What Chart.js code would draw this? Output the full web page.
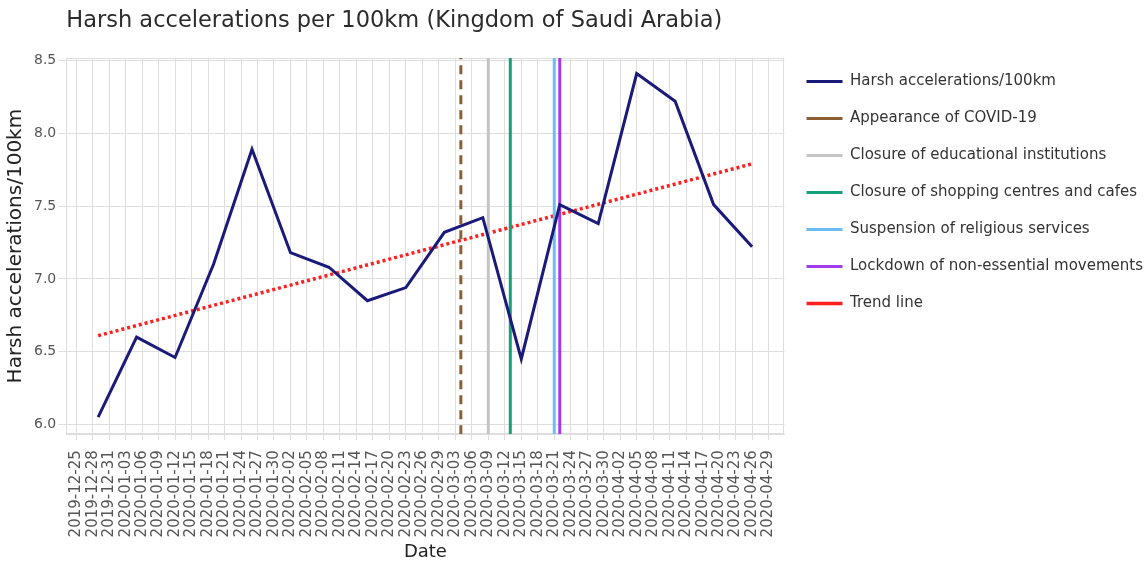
<!DOCTYPE html>
<html>
<head>
<meta charset="utf-8">
<script src="https://cdn.jsdelivr.net/npm/chart.js@4.4.1/dist/chart.umd.min.js"></script>
<style>
    html, body { margin: 0; padding: 0; background: #fff; }
    #wrap { width: 1148px; height: 563px; }
</style>
</head>
<body>
<div id="wrap"><canvas id="accelChart" width="1148" height="563"></canvas></div>
<script>
// weekly values
const weekDates = [
    '2019-12-29', '2020-01-05', '2020-01-12', '2020-01-19', '2020-01-26', '2020-02-02',
    '2020-02-09', '2020-02-16', '2020-02-23', '2020-03-01', '2020-03-08', '2020-03-15',
    '2020-03-22', '2020-03-29', '2020-04-05', '2020-04-12', '2020-04-19', '2020-04-26'
];
const harshValues = [
    6.05, 6.60, 6.46, 7.10, 7.89, 7.18,
    7.08, 6.85, 6.94, 7.32, 7.42, 6.45,
    7.51, 7.38, 8.41, 8.22, 7.51, 7.22
];

// trend line end points
const trendDates = ['2019-12-29', '2020-04-26'];
const trendValues = [6.61, 7.79];

// events (vertical lines)
const eventLabels = [
    'Appearance of COVID-19',
    'Closure of educational institutions',
    'Closure of shopping centres and cafes',
    'Suspension of religious services',
    'Lockdown of non-essential movements'
];
const eventDates = ['2020-03-04', '2020-03-09', '2020-03-13', '2020-03-21', '2020-03-22'];
const eventColors = ['#8c5f33', '#c4c4c4', '#16a07a', '#6cbcf2', '#a03cf0'];
const eventDashes = [[9, 6], [], [], [], []];

const Y_MIN = 5.933;
const Y_MAX = 8.517;
const X_MIN = -1.8;   // days relative to 2019-12-25
const X_MAX = 128.9;

const GRID = '#dedede';
const FONT = 'DejaVu Sans';

const BASE = Date.UTC(2019, 11, 25);

function dayOf(s) {
    const [y, m, d] = s.split('-').map(Number);
    return (Date.UTC(y, m - 1, d) - BASE) / 864e5;
}

function dateOf(v) {
    return new Date(BASE + Math.round(v) * 864e5).toISOString().slice(0, 10);
}

const datasets = [];

datasets.push({
    label: 'Harsh accelerations/100km',
    data: weekDates.map((d, i) => ({ x: dayOf(d), y: harshValues[i] })),
    borderColor: '#1a1a7a',
    borderWidth: 3,
    pointRadius: 0,
    tension: 0
});

eventLabels.forEach((label, i) => {
    datasets.push({
        label: label,
        data: [{ x: dayOf(eventDates[i]), y: Y_MIN }, { x: dayOf(eventDates[i]), y: Y_MAX }],
        borderColor: eventColors[i],
        borderDash: eventDashes[i],
        borderWidth: 3,
        pointRadius: 0
    });
});

datasets.push({
    label: 'Trend line',
    data: trendDates.map((d, i) => ({ x: dayOf(d), y: trendValues[i] })),
    borderColor: '#ff1f1f',
    borderDash: [3, 3],
    borderWidth: 3.5,
    pointRadius: 0
});

const plotBorder = {
    id: 'plotBorder',
    beforeDatasetsDraw(chart) {
        const { ctx, chartArea: a } = chart;
        ctx.save();
        ctx.strokeStyle = GRID;
        ctx.lineWidth = 1;
        ctx.strokeRect(Math.round(a.left) + 0.5, Math.round(a.top) + 0.5,
            Math.round(a.width) - 1, Math.round(a.height) - 1);
        ctx.restore();
    }
};

// the layout caps a side legend at a quarter of the canvas, let it take what its labels need
const wideLegend = {
    id: 'wideLegend',
    beforeLayout(chart) {
        const lg = chart.legend;
        if (!lg || lg._wide) return;
        const fit = lg.fit;
        lg.fit = function () {
            fit.call(this);
            if (this.columnSizes && this.columnSizes.length) {
                this.width = this.options.labels.padding + this.columnSizes[0].width + 5;
            }
        };
        lg._wide = true;
    }
};

new Chart(document.getElementById('accelChart'), {
    type: 'line',
    data: { datasets: datasets },
    plugins: [plotBorder, wideLegend],
    options: {
        responsive: false,
        animation: false,
        layout: { padding: { left: 2, right: 0, top: 0, bottom: 0 } },
        plugins: {
            title: {
                display: true,
                text: 'Harsh accelerations per 100km (Kingdom of Saudi Arabia)',
                align: 'start',
                fullSize: false,
                color: '#2b2b2b',
                font: { family: FONT, size: 22.5, weight: 'normal' },
                padding: { top: 8, bottom: 23 }
            },
            legend: {
                position: 'right',
                align: 'start',
                title: { display: true, text: '', font: { size: 15 }, padding: { top: 34, bottom: 0 } },
                labels: {
                    usePointStyle: true,
                    pointStyle: 'line',
                    pointStyleWidth: 36,
                    padding: 22,
                    color: '#333',
                    font: { family: FONT, size: 15 }
                }
            },
            tooltip: { enabled: false }
        },
        scales: {
            x: {
                type: 'linear',
                min: X_MIN,
                max: X_MAX,
                grid: { color: GRID, tickLength: 6 },
                border: { color: GRID },
                ticks: {
                    stepSize: 3,
                    includeBounds: false,
                    autoSkip: false,
                    minRotation: 90,
                    maxRotation: 90,
                    padding: 10,
                    color: '#555',
                    font: { family: FONT, size: 15 },
                    callback: v => dateOf(v)
                },
                title: {
                    display: true,
                    text: 'Date',
                    color: '#222',
                    font: { family: FONT, size: 18 },
                    padding: { top: -6, bottom: 0 }
                }
            },
            y: {
                min: Y_MIN,
                max: Y_MAX,
                grid: { color: GRID, tickLength: 8 },
                border: { color: GRID },
                ticks: {
                    stepSize: 0.5,
                    includeBounds: false,
                    padding: 2,
                    color: '#555',
                    font: { family: FONT, size: 14 },
                    callback: v => v.toFixed(1)
                },
                title: {
                    display: true,
                    text: 'Harsh accelerations/100km',
                    color: '#222',
                    font: { family: FONT, size: 20 },
                    padding: { top: 2, bottom: 4 }
                }
            }
        }
    }
});
</script>
</body>
</html>
